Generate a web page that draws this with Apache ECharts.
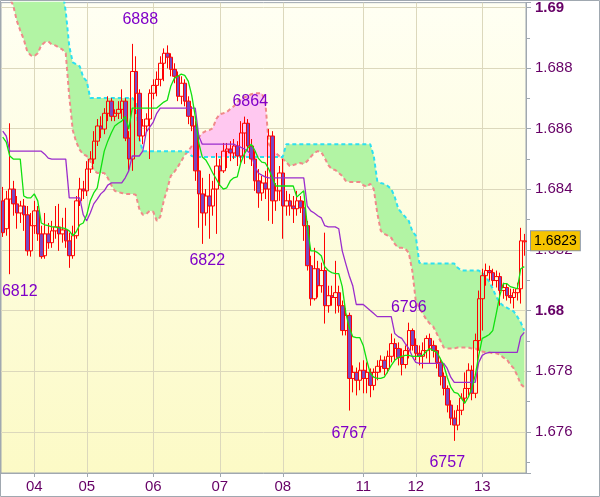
<!DOCTYPE html>
<html><head><meta charset="utf-8">
<script src="https://cdn.jsdelivr.net/npm/echarts@6/dist/echarts.min.js"></script>
<style>html,body{margin:0;padding:0;background:#fff}#c{width:600px;height:497px}</style>
</head><body><div id="c"></div><script>
// ---- data (hourly bars, 150 bars) ----
const openP=[
1.68362,1.68270,1.68368,1.68401,1.68352,1.68322,1.68345,1.68316,1.68197,1.68280,
1.68329,1.68253,1.68181,1.68253,1.68224,1.68263,1.68276,1.68253,1.68266,1.68230,
1.68181,1.68247,1.68362,1.68401,1.68395,1.68467,1.68500,1.68559,1.68609,1.68599,
1.68651,1.68691,1.68641,1.68651,1.68664,1.68691,1.68569,1.68500,1.68789,1.68717,
1.68576,1.68609,1.68632,1.68717,1.68743,1.68763,1.68816,1.68849,1.68836,1.68796,
1.68773,1.68707,1.68750,1.68691,1.68641,1.68609,1.68461,1.68385,1.68322,1.68378,
1.68345,1.68401,1.68477,1.68461,1.68526,1.68533,1.68520,1.68543,1.68510,1.68586,
1.68618,1.68543,1.68500,1.68428,1.68388,1.68421,1.68401,1.68576,1.68362,1.68395,
1.68454,1.68345,1.68362,1.68345,1.68336,1.68362,1.68339,1.68280,1.68148,1.68039,
1.68138,1.68082,1.68132,1.68016,1.68049,1.68043,1.68059,1.68016,1.67934,1.67984,
1.67776,1.67796,1.67770,1.67803,1.67776,1.67796,1.67753,1.67796,1.67816,1.67836,
1.67809,1.67849,1.67891,1.67875,1.67845,1.67822,1.67868,1.67934,1.67885,1.67859,
1.67849,1.67868,1.67908,1.67885,1.67868,1.67829,1.67783,1.67743,1.67688,1.67645,
1.67622,1.67671,1.67711,1.67743,1.67803,1.67727,1.67901,1.68039,1.68115,1.68132,
1.68125,1.68099,1.68112,1.68066,1.68076,1.68049,1.68043,1.68059,1.68072,1.68227];
const closeP=[
1.68257,1.68368,1.68401,1.68352,1.68322,1.68345,1.68316,1.68197,1.68280,1.68329,
1.68253,1.68178,1.68253,1.68224,1.68263,1.68276,1.68253,1.68266,1.68230,1.68181,
1.68247,1.68362,1.68401,1.68395,1.68467,1.68500,1.68559,1.68609,1.68599,1.68651,
1.68691,1.68641,1.68651,1.68664,1.68691,1.68569,1.68500,1.68789,1.68717,1.68576,
1.68609,1.68632,1.68717,1.68743,1.68763,1.68816,1.68849,1.68836,1.68796,1.68773,
1.68707,1.68750,1.68691,1.68641,1.68609,1.68461,1.68385,1.68322,1.68378,1.68345,
1.68401,1.68477,1.68461,1.68526,1.68533,1.68520,1.68543,1.68510,1.68586,1.68618,
1.68543,1.68500,1.68428,1.68388,1.68421,1.68401,1.68576,1.68362,1.68395,1.68454,
1.68345,1.68362,1.68345,1.68336,1.68362,1.68339,1.68280,1.68148,1.68039,1.68138,
1.68082,1.68132,1.68016,1.68049,1.68043,1.68059,1.68016,1.67934,1.67984,1.67776,
1.67796,1.67770,1.67803,1.67776,1.67796,1.67753,1.67796,1.67816,1.67836,1.67809,
1.67849,1.67891,1.67875,1.67845,1.67822,1.67868,1.67934,1.67885,1.67859,1.67849,
1.67868,1.67908,1.67885,1.67868,1.67829,1.67783,1.67743,1.67688,1.67645,1.67622,
1.67671,1.67711,1.67743,1.67803,1.67727,1.67901,1.68039,1.68115,1.68132,1.68125,
1.68099,1.68112,1.68066,1.68076,1.68049,1.68043,1.68059,1.68072,1.68230,1.68230];
const highP=[
1.68408,1.68395,1.68618,1.68428,1.68378,1.68362,1.68368,1.68345,1.68322,1.68362,
1.68345,1.68280,1.68322,1.68289,1.68296,1.68345,1.68352,1.68306,1.68339,1.68257,
1.68280,1.68378,1.68438,1.68428,1.68493,1.68526,1.68592,1.68632,1.68641,1.68668,
1.68707,1.68701,1.68664,1.68691,1.68730,1.68701,1.68592,1.68880,1.68839,1.68730,
1.68632,1.68651,1.68730,1.68763,1.68789,1.68839,1.68865,1.68875,1.68849,1.68816,
1.68789,1.68773,1.68763,1.68707,1.68674,1.68625,1.68582,1.68438,1.68401,1.68451,
1.68428,1.68520,1.68500,1.68553,1.68553,1.68559,1.68566,1.68559,1.68625,1.68640,
1.68632,1.68566,1.68526,1.68467,1.68444,1.68461,1.68599,1.68592,1.68421,1.68477,
1.68500,1.68395,1.68385,1.68378,1.68395,1.68378,1.68362,1.68296,1.68181,1.68207,
1.68164,1.68158,1.68257,1.68082,1.68082,1.68164,1.68082,1.68033,1.68007,1.67993,
1.67819,1.67812,1.67829,1.67836,1.67829,1.67809,1.67809,1.67836,1.67852,1.67849,
1.67868,1.67924,1.67908,1.67895,1.67875,1.67885,1.67960,1.67941,1.67908,1.67885,
1.67895,1.67918,1.67924,1.67901,1.67885,1.67842,1.67796,1.67753,1.67704,1.67671,
1.67688,1.67727,1.67796,1.67826,1.67819,1.67924,1.68066,1.68138,1.68155,1.68148,
1.68138,1.68132,1.68125,1.68092,1.68089,1.68072,1.68072,1.68092,1.68273,1.68253];
const lowP=[
1.68243,1.68247,1.68120,1.68313,1.68270,1.68289,1.68263,1.68181,1.68178,1.68253,
1.68230,1.68171,1.68171,1.68204,1.68207,1.68237,1.68197,1.68224,1.68207,1.68141,
1.68171,1.68237,1.68345,1.68368,1.68378,1.68454,1.68484,1.68543,1.68569,1.68582,
1.68625,1.68625,1.68625,1.68632,1.68632,1.68559,1.68461,1.68461,1.68648,1.68559,
1.68549,1.68592,1.68500,1.68697,1.68707,1.68740,1.68757,1.68799,1.68773,1.68750,
1.68691,1.68681,1.68674,1.68615,1.68592,1.68428,1.68273,1.68220,1.68280,1.68237,
1.68313,1.68253,1.68411,1.68454,1.68470,1.68493,1.68500,1.68477,1.68487,1.68484,
1.68526,1.68477,1.68395,1.68339,1.68362,1.68368,1.68296,1.68286,1.68329,1.68362,
1.68237,1.68313,1.68313,1.68289,1.68313,1.68322,1.68230,1.68132,1.68016,1.68033,
1.68043,1.68059,1.67957,1.67993,1.68016,1.67990,1.67993,1.67918,1.67918,1.67670,
1.67730,1.67720,1.67737,1.67727,1.67727,1.67714,1.67737,1.67770,1.67796,1.67786,
1.67793,1.67829,1.67836,1.67819,1.67786,1.67809,1.67842,1.67868,1.67836,1.67819,
1.67809,1.67842,1.67826,1.67845,1.67809,1.67753,1.67720,1.67664,1.67622,1.67570,
1.67605,1.67655,1.67694,1.67720,1.67704,1.67711,1.67868,1.67934,1.68082,1.68099,
1.68082,1.68076,1.68016,1.68039,1.68033,1.68023,1.68007,1.68033,1.68023,1.68181];
const tenkan=[
1.68572,1.68556,1.68510,1.68500,1.68500,1.68500,1.68378,1.68372,1.68372,1.68385,
1.68362,1.68289,1.68283,1.68280,1.68276,1.68276,1.68273,1.68273,1.68270,1.68263,
1.68247,1.68260,1.68283,1.68289,1.68316,1.68362,1.68388,1.68405,1.68467,1.68526,
1.68559,1.68586,1.68609,1.68618,1.68625,1.68641,1.68599,1.68668,1.68668,1.68668,
1.68668,1.68668,1.68668,1.68668,1.68668,1.68678,1.68688,1.68694,1.68740,1.68766,
1.68773,1.68780,1.68776,1.68757,1.68710,1.68641,1.68553,1.68507,1.68497,1.68477,
1.68454,1.68434,1.68414,1.68401,1.68405,1.68428,1.68438,1.68441,1.68487,1.68516,
1.68536,1.68549,1.68529,1.68503,1.68490,1.68487,1.68467,1.68438,1.68411,1.68411,
1.68411,1.68411,1.68411,1.68411,1.68375,1.68385,1.68395,1.68280,1.68197,1.68197,
1.68191,1.68181,1.68145,1.68132,1.68125,1.68122,1.68122,1.68079,1.67993,1.67944,
1.67914,1.67911,1.67911,1.67885,1.67836,1.67793,1.67780,1.67776,1.67776,1.67780,
1.67799,1.67819,1.67836,1.67845,1.67849,1.67852,1.67852,1.67849,1.67849,1.67849,
1.67852,1.67865,1.67875,1.67868,1.67862,1.67842,1.67819,1.67780,1.67747,1.67730,
1.67727,1.67711,1.67694,1.67714,1.67743,1.67786,1.67852,1.67908,1.67914,1.67921,
1.67934,1.67990,1.68049,1.68089,1.68089,1.68079,1.68076,1.68072,1.68138,1.68145];
const kijun=[
1.68592,1.68576,1.68526,1.68526,1.68526,1.68526,1.68526,1.68526,1.68526,1.68526,
1.68526,1.68526,1.68516,1.68503,1.68500,1.68500,1.68500,1.68500,1.68500,1.68372,
1.68372,1.68372,1.68372,1.68316,1.68296,1.68322,1.68352,1.68368,1.68385,1.68395,
1.68414,1.68421,1.68421,1.68421,1.68421,1.68438,1.68461,1.68510,1.68510,1.68510,
1.68526,1.68589,1.68605,1.68622,1.68651,1.68668,1.68668,1.68668,1.68668,1.68668,
1.68668,1.68668,1.68668,1.68668,1.68668,1.68668,1.68576,1.68549,1.68549,1.68549,
1.68549,1.68549,1.68549,1.68549,1.68549,1.68549,1.68549,1.68543,1.68539,1.68533,
1.68526,1.68516,1.68477,1.68454,1.68447,1.68441,1.68438,1.68438,1.68438,1.68438,
1.68438,1.68438,1.68438,1.68438,1.68438,1.68438,1.68438,1.68345,1.68329,1.68322,
1.68313,1.68306,1.68280,1.68276,1.68276,1.68276,1.68270,1.68197,1.68155,1.68115,
1.68082,1.68020,1.68020,1.68020,1.68010,1.68000,1.67990,1.67980,1.67980,1.67980,
1.67980,1.67980,1.67924,1.67914,1.67908,1.67891,1.67875,1.67849,1.67829,1.67826,
1.67826,1.67826,1.67826,1.67826,1.67826,1.67826,1.67826,1.67809,1.67780,1.67763,
1.67763,1.67763,1.67763,1.67763,1.67763,1.67763,1.67829,1.67852,1.67859,1.67862,
1.67862,1.67862,1.67862,1.67862,1.67862,1.67862,1.67862,1.67862,1.67914,1.67928];
const senkouA=[
1.69060,1.69060,1.69060,1.69060,1.69060,1.69060,1.69060,1.69060,1.69060,1.69060,
1.69060,1.69060,1.69060,1.69060,1.69060,1.69060,1.69060,1.69060,1.68987,1.68872,
1.68819,1.68813,1.68806,1.68770,1.68757,1.68701,1.68701,1.68701,1.68701,1.68701,
1.68701,1.68701,1.68701,1.68701,1.68701,1.68701,1.68701,1.68701,1.68691,1.68569,
1.68526,1.68526,1.68526,1.68526,1.68526,1.68526,1.68526,1.68526,1.68526,1.68526,
1.68526,1.68526,1.68526,1.68523,1.68510,1.68507,1.68507,1.68507,1.68507,1.68507,
1.68507,1.68507,1.68507,1.68507,1.68507,1.68507,1.68507,1.68507,1.68507,1.68507,
1.68507,1.68507,1.68507,1.68507,1.68507,1.68507,1.68507,1.68507,1.68507,1.68507,
1.68507,1.68549,1.68549,1.68549,1.68549,1.68549,1.68549,1.68549,1.68549,1.68549,
1.68549,1.68549,1.68549,1.68549,1.68549,1.68549,1.68549,1.68549,1.68549,1.68549,
1.68549,1.68549,1.68549,1.68549,1.68549,1.68549,1.68510,1.68428,1.68421,1.68418,
1.68411,1.68401,1.68375,1.68336,1.68322,1.68309,1.68296,1.68263,1.68247,1.68158,
1.68155,1.68155,1.68155,1.68155,1.68155,1.68155,1.68155,1.68155,1.68155,1.68155,
1.68141,1.68132,1.68132,1.68132,1.68132,1.68132,1.68132,1.68125,1.68112,1.68095,
1.68072,1.68046,1.68026,1.68016,1.68010,1.68003,1.67997,1.67980,1.67961,1.67934];
const senkouB=[
1.69086,1.69059,1.69030,1.69007,1.68957,1.68924,1.68895,1.68855,1.68842,1.68839,
1.68849,1.68875,1.68885,1.68888,1.68878,1.68875,1.68868,1.68862,1.68849,1.68707,
1.68595,1.68556,1.68530,1.68516,1.68510,1.68493,1.68464,1.68454,1.68454,1.68454,
1.68438,1.68414,1.68395,1.68391,1.68388,1.68385,1.68385,1.68385,1.68382,1.68336,
1.68316,1.68319,1.68329,1.68326,1.68296,1.68309,1.68362,1.68401,1.68444,1.68457,
1.68474,1.68493,1.68513,1.68526,1.68543,1.68559,1.68572,1.68586,1.68592,1.68595,
1.68602,1.68632,1.68648,1.68651,1.68655,1.68665,1.68674,1.68688,1.68697,1.68704,
1.68707,1.68714,1.68717,1.68717,1.68717,1.68691,1.68549,1.68533,1.68520,1.68510,
1.68500,1.68490,1.68477,1.68480,1.68484,1.68487,1.68484,1.68493,1.68507,1.68520,
1.68526,1.68523,1.68503,1.68480,1.68467,1.68464,1.68454,1.68444,1.68428,1.68424,
1.68424,1.68424,1.68424,1.68414,1.68408,1.68418,1.68401,1.68322,1.68263,1.68253,
1.68247,1.68240,1.68220,1.68207,1.68207,1.68204,1.68191,1.68132,1.68033,1.68010,
1.67990,1.67971,1.67957,1.67947,1.67924,1.67901,1.67878,1.67875,1.67875,1.67875,
1.67878,1.67878,1.67878,1.67878,1.67875,1.67875,1.67868,1.67865,1.67862,1.67862,
1.67859,1.67859,1.67855,1.67845,1.67839,1.67822,1.67809,1.67786,1.67757,1.67747];
const dayTickIndex=[9,24,43,62,80,103,118,137];
const dayTickLabel=['04','05','06','07','08','11','12','13'];
const priceGrid=[1.676,1.678,1.680,1.682,1.684,1.686,1.688,1.690];
const noteText=['6888','6864','6822','6812','6767','6796','6757'];
const noteBar=[37,69,57,2,99,116,129];
const notePrice=[1.6888,1.6864,1.6822,1.6812,1.6767,1.6796,1.6757];
const lastPrice=1.6823;

// ---- build ----
const N=openP.length;
const cats=[];for(let i=0;i<N;i++)cats.push('b'+i);
const candles=openP.map((o,i)=>[o,closeP[i],lowP[i],highP[i]]);
const cloudBase=senkouA.map((a,i)=>Math.min(a,senkouB[i]));
const cloudGreen=senkouA.map((a,i)=>Math.max(a-senkouB[i],0));
const cloudPink=senkouA.map((a,i)=>Math.max(senkouB[i]-a,0));
const tickMap={};dayTickIndex.forEach((d,k)=>tickMap[d]=dayTickLabel[k]);
const notePlace=[[8,-24],[6,-15],[5,17],[10,17],[0,23],[0,-15],[-7,22]];
const FONT="'Liberation Sans', Arial, sans-serif";
const AX='#a0a8b0', TXT='#660066', GRID='#dcd8bc';

const chart=echarts.init(document.getElementById('c'),null,{renderer:'canvas'});
chart.setOption({
  animation:false,
  backgroundColor:'#ffffff',
  grid:{left:1,right:74,top:1,bottom:24,show:true,borderColor:AX,borderWidth:1,
    backgroundColor:{type:'linear',x:0,y:0,x2:0,y2:1,colorStops:[{offset:0,color:'#fffff3'},{offset:1,color:'#fcfac6'}]}},
  xAxis:{type:'category',data:cats,boundaryGap:true,
    axisLine:{show:true,lineStyle:{color:AX}},
    axisTick:{show:true,alignWithLabel:true,length:4,interval:(i)=>tickMap[i]!==undefined,lineStyle:{color:AX}},
    axisLabel:{interval:(i)=>tickMap[i]!==undefined,formatter:(v,i)=>tickMap[i]||'',color:TXT,fontSize:15,fontFamily:FONT,margin:6},
    splitLine:{show:false}},
  yAxis:{type:'value',position:'right',min:1.67464,max:1.69016,splitNumber:8,scale:true,
    axisLine:{show:true,lineStyle:{color:AX}},
    axisTick:{show:true,length:5,lineStyle:{color:AX}},
    minorTick:{show:true,splitNumber:2,length:4,lineStyle:{color:AX}},
    splitLine:{show:false},
    axisLabel:{showMinLabel:false,showMaxLabel:false,margin:9,color:TXT,fontSize:15,fontFamily:FONT,
      formatter:(v)=>{const r=Math.round(v*1000)/1000;if(Math.abs(r-v)>1e-7)return '';
        const s=r.toFixed(3).replace(/0+$/,'').replace(/\.$/,'');
        return (Math.round(r*1000)%10===0)?'{b|'+s+'}':s;},
      rich:{b:{fontWeight:'bold',fontSize:15,color:TXT,fontFamily:FONT}}}},
  series:[
    {type:'line',stack:'cloud',data:cloudBase,symbol:'none',z:1,silent:true,lineStyle:{opacity:0}},
    {type:'line',stack:'cloud',data:cloudGreen,symbol:'none',z:1,silent:true,lineStyle:{opacity:0},areaStyle:{color:'#b2f4a4',opacity:1}},
    {type:'line',stack:'cloud',data:cloudPink,symbol:'none',z:1,silent:true,lineStyle:{opacity:0},areaStyle:{color:'#ffc8f0',opacity:1}},
    {type:'line',data:[],z:1,silent:true,
      markLine:{silent:true,z:1,precision:4,symbol:['none','none'],label:{show:false},
        lineStyle:{color:GRID,width:1,type:'solid'},
        data:dayTickIndex.map(i=>({xAxis:cats[i]})).concat(priceGrid.map(v=>({yAxis:v})))}},
    {type:'line',data:senkouB,symbol:'none',z:2,silent:true,lineStyle:{color:'#f08a8a',width:2,type:[4,3]}},
    {type:'line',data:senkouA,symbol:'none',z:2,silent:true,lineStyle:{color:'#2ee0f0',width:2,type:[4,3]}},
    {type:'candlestick',data:candles,z:3,barWidth:4,silent:true,
      itemStyle:{color:'rgba(0,0,0,0)',color0:'#7a48c0',borderColor:'#ff0000',borderColor0:'#ff0000',borderWidth:1},
      markPoint:{silent:true,symbol:'circle',symbolSize:1,itemStyle:{color:'rgba(0,0,0,0)'},
        label:{show:true,position:'inside',color:'#8000c8',fontSize:16,fontFamily:FONT,formatter:'{b}'},
        data:noteText.map((t,k)=>({name:t,coord:[cats[noteBar[k]],notePrice[k]],label:{offset:notePlace[k]}}))}},
    {type:'line',data:kijun,symbol:'none',z:4,silent:true,lineStyle:{color:'#9a2ccc',width:1.3}},
    {type:'line',data:tenkan,symbol:'none',z:4,silent:true,lineStyle:{color:'#10e010',width:1.3},
      markLine:{silent:true,z:10,precision:4,symbol:['none','none'],lineStyle:{color:'rgba(0,0,0,0)',width:1},
        label:{show:true,position:'end',distance:5,formatter:lastPrice.toFixed(4),color:'#000',fontSize:14,fontFamily:FONT,
          backgroundColor:'#f6c400',borderColor:'#8a96a4',borderWidth:1,padding:[3,3,2,3]},
        data:[{yAxis:lastPrice}]}}
  ],
  graphic:[{type:'rect',z:100,silent:true,shape:{x:0.5,y:0.5,width:599,height:496},style:{fill:'none',stroke:AX,lineWidth:1}}]
});
</script></body></html>
